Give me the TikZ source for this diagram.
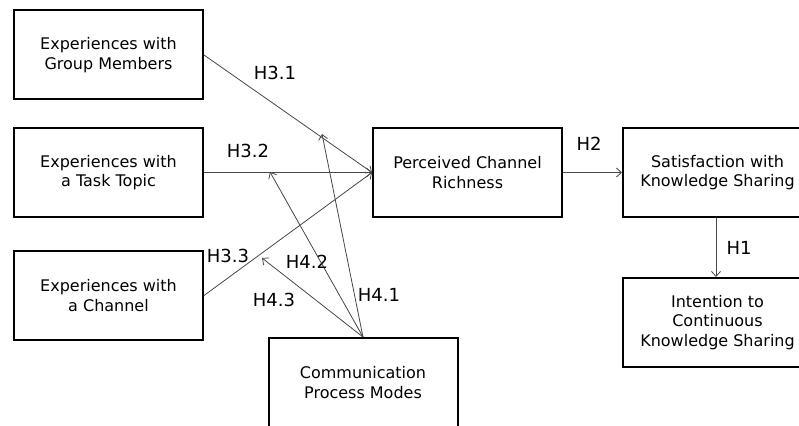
\documentclass[tikz,border=0pt]{standalone}
\usepackage{fontspec}
\setmainfont{DejaVu Sans}
\usetikzlibrary{arrows.meta}
\begin{document}
\begin{tikzpicture}[x=1pt,y=-1pt,
 box/.style={draw=black,line width=2pt,minimum width=189pt,minimum height=89pt,align=center,font=\fontsize{16}{19.5}\selectfont,inner sep=0pt},
 conn/.style={draw=black!72,line width=0.8pt,-{Straight Barb[length=5pt,width=9pt]}},
 lab/.style={font=\fontsize{18}{20}\selectfont,inner sep=0pt}]
\useasboundingbox (0,0) rectangle (799,425);
\clip (0,0) rectangle (799,425);
\node[box] (gm) at (108.5,55) {Experiences with\\Group Members};
\node[box] (tt) at (108.5,172.5) {Experiences with\\a Task Topic};
\node[box] (ch) at (108.5,295.5) {Experiences with\\a Channel};
\node[box] (pcr) at (467.5,172.5) {Perceived Channel\\Richness};
\node[box] (sks) at (717.5,172.5) {Satisfaction with\\Knowledge Sharing};
\node[box] (icks) at (717.5,322.5) {Intention to\\Continuous\\Knowledge Sharing};
\node[box] (cpm) at (363,382.5) {Communication\\Process Modes};
\coordinate (t41) at (322,134);
\coordinate (t42) at (270,172);
\coordinate (t43) at (262,258);
\draw[conn] (gm.east) -- (pcr.west);
\draw[conn] (tt.east) -- (pcr.west);
\draw[conn] (ch.east) -- (pcr.west);
\draw[conn] (pcr.east) -- (sks.west);
\draw[conn] (sks.south -| 716,0) -- (icks.north -| 716,0);
\draw[conn] (cpm.north) -- (t41);
\draw[conn] (cpm.north) -- (t42);
\draw[conn] (cpm.north) -- (t43);
\node[lab] (h31) at (275,73) {H3.1};
\node[lab] (h32) at (248,151) {H3.2};
\node[lab] (h33) at (228,256) {H3.3};
\node[lab] (h42) at (307,262) {H4.2};
\node[lab] (h43) at (274,300) {H4.3};
\node[lab] (h41) at (379,295) {H4.1};
\node[lab] (h2) at (589,144) {H2};
\node[lab] (h1) at (739,248) {H1};
\end{tikzpicture}
\end{document}
